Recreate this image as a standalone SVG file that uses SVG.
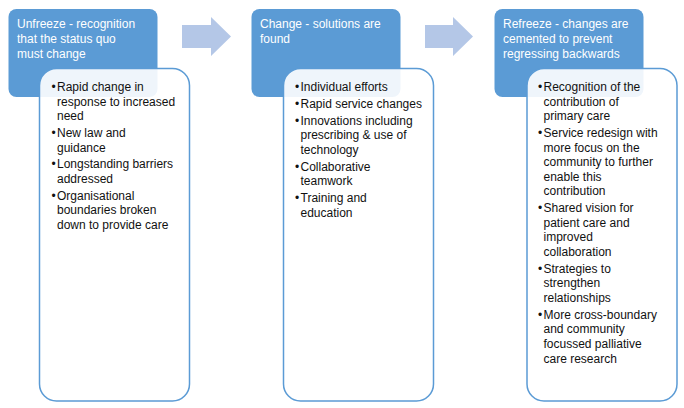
<svg xmlns="http://www.w3.org/2000/svg" width="684" height="408" viewBox="0 0 684 408">
<style>
.hdr{fill:#5B9BD5}
.box{fill:#FFFFFF;fill-opacity:0.9;stroke:#5B9BD5;stroke-width:1.5}
.arr{fill:#B4C7E7}
.ht{font-family:"Liberation Sans",Arial,sans-serif;font-size:12px;fill:#FFFFFF}
.bt{font-family:"Liberation Sans",Arial,sans-serif;font-size:12px;fill:#111111}
</style>
<rect width="684" height="408" fill="#FFFFFF"/>
<g id="connectors">
<polygon class="arr" points="182,25 211,25 211,17 231,36.5 211,56 211,48 182,48"/>
<polygon class="arr" points="425,25 453,25 453,17 473,36.5 453,56 453,48 425,48"/>
</g>
<g id="unfreeze">
<rect class="hdr" x="8.5" y="9" width="149" height="88" rx="8"/>
<text class="ht" x="17"><tspan x="17" y="28">Unfreeze - recognition</tspan><tspan x="17" y="43">that the status quo</tspan><tspan x="17" y="58">must change</tspan></text>
</g>
<g id="unfreeze-details">
<rect class="box" x="39.5" y="68.5" width="150" height="332.5" rx="17"/>
<text class="bt"><tspan x="51.5" y="91">•</tspan><tspan x="57" y="91">Rapid change in</tspan><tspan x="57" y="105.6">response to increased</tspan><tspan x="57" y="120.2">need</tspan><tspan x="51.5" y="137">•</tspan><tspan x="57" y="137">New law and</tspan><tspan x="57" y="151.6">guidance</tspan><tspan x="51.5" y="168.4">•</tspan><tspan x="57" y="168.4">Longstanding barriers</tspan><tspan x="57" y="183">addressed</tspan><tspan x="51.5" y="199.8">•</tspan><tspan x="57" y="199.8">Organisational</tspan><tspan x="57" y="214.4">boundaries broken</tspan><tspan x="57" y="229">down to provide care</tspan></text>
</g>
<g id="change">
<rect class="hdr" x="251.5" y="9" width="149" height="88" rx="8"/>
<text class="ht"><tspan x="260" y="28">Change - solutions are</tspan><tspan x="260" y="43">found</tspan></text>
</g>
<g id="change-details">
<rect class="box" x="283.5" y="68.5" width="150" height="332.5" rx="17"/>
<text class="bt"><tspan x="295" y="91">•</tspan><tspan x="300.5" y="91">Individual efforts</tspan><tspan x="295" y="107.8">•</tspan><tspan x="300.5" y="107.8">Rapid service changes</tspan><tspan x="295" y="124.6">•</tspan><tspan x="300.5" y="124.6">Innovations including</tspan><tspan x="300.5" y="139.2">prescribing &amp; use of</tspan><tspan x="300.5" y="153.8">technology</tspan><tspan x="295" y="170.6">•</tspan><tspan x="300.5" y="170.6">Collaborative</tspan><tspan x="300.5" y="185.2">teamwork</tspan><tspan x="295" y="202">•</tspan><tspan x="300.5" y="202">Training and</tspan><tspan x="300.5" y="216.6">education</tspan></text>
</g>
<g id="refreeze">
<rect class="hdr" x="494.5" y="9" width="149" height="88" rx="8"/>
<text class="ht"><tspan x="503" y="28">Refreeze - changes are</tspan><tspan x="503" y="43">cemented to prevent</tspan><tspan x="503" y="58">regressing backwards</tspan></text>
</g>
<g id="refreeze-details">
<rect class="box" x="527" y="68.5" width="150" height="332.5" rx="17"/>
<text class="bt"><tspan x="538" y="91">•</tspan><tspan x="543.5" y="91">Recognition of the</tspan><tspan x="543.5" y="105.6">contribution of</tspan><tspan x="543.5" y="120.2">primary care</tspan><tspan x="538" y="137">•</tspan><tspan x="543.5" y="137">Service redesign with</tspan><tspan x="543.5" y="151.6">more focus on the</tspan><tspan x="543.5" y="166.2">community to further</tspan><tspan x="543.5" y="180.8">enable this</tspan><tspan x="543.5" y="195.4">contribution</tspan><tspan x="538" y="212.2">•</tspan><tspan x="543.5" y="212.2">Shared vision for</tspan><tspan x="543.5" y="226.8">patient care and</tspan><tspan x="543.5" y="241.4">improved</tspan><tspan x="543.5" y="256">collaboration</tspan><tspan x="538" y="272.8">•</tspan><tspan x="543.5" y="272.8">Strategies to</tspan><tspan x="543.5" y="287.4">strengthen</tspan><tspan x="543.5" y="302">relationships</tspan><tspan x="538" y="318.8">•</tspan><tspan x="543.5" y="318.8">More cross-boundary</tspan><tspan x="543.5" y="333.4">and community</tspan><tspan x="543.5" y="348">focussed palliative</tspan><tspan x="543.5" y="362.6">care research</tspan></text>
</g>
</svg>
